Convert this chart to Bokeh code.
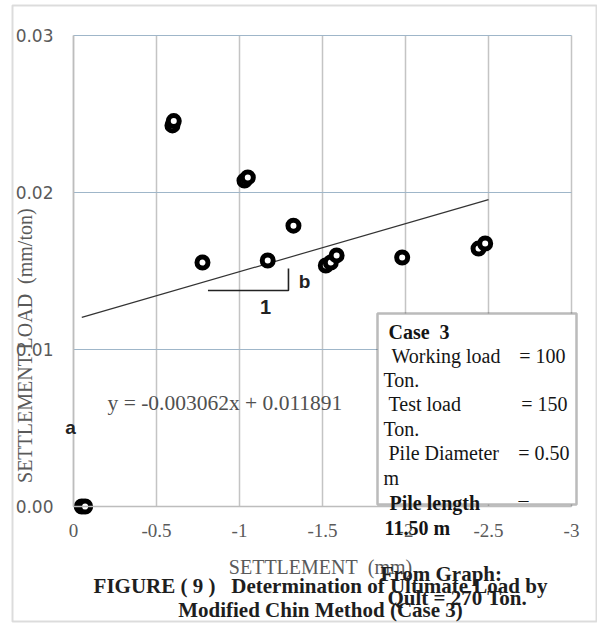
import math
from bokeh.plotting import figure
from bokeh.models import Range1d, FixedTicker, NumeralTickFormatter, Label, BoxAnnotation
from bokeh.embed import file_html
from bokeh.resources import INLINE

# ---------------- data ----------------
settlement = [-0.05, -0.07, -0.596, -0.604, -0.777, -1.03, -1.05, -1.17,
              -1.325, -1.52, -1.55, -1.585, -1.98, -2.44, -2.48]
settle_per_load = [0.0, 0.0, 0.02427, 0.02455, 0.01554, 0.02076, 0.02096, 0.01567,
                   0.01789, 0.01535, 0.01554, 0.01599, 0.01586, 0.01643, 0.01675]

trend_slope = -0.003062
trend_intercept = 0.011891
trend_x = [-0.05, -2.5]
trend_y = [trend_slope * x + trend_intercept for x in trend_x]

slope_tri_x = [-0.81, -1.295, -1.295]
slope_tri_y = [0.01376, 0.01376, 0.01516]

x_ticks = [0, -0.5, -1, -1.5, -2, -2.5, -3]
x_tick_labels = ["0", "-0.5", "-1", "-1.5", "-2", "-2.5", "-3"]
y_ticks = [0, 0.01, 0.02, 0.03]

# ---------------- layout geometry (pixels) ----------------
W, H = 597, 623
X0_PX, X3_PX = 73, 571      # pixel of x = 0 and x = -3
Y0_PX, Y3_PX = 506, 35      # pixel of y = 0 and y = 0.03

def dx(px):
    return -(px - X0_PX) * 3.0 / (X3_PX - X0_PX)

def dy(py):
    return (Y0_PX - py) * 0.03 / (Y0_PX - Y3_PX)

p = figure(width=W, height=H,
           x_range=Range1d(dx(0), dx(W)), y_range=Range1d(dy(H), dy(0)),
           output_backend="svg", toolbar_location=None,
           min_border=0, min_border_left=0, min_border_right=0,
           min_border_top=0, min_border_bottom=0)
p.outline_line_color = None
p.background_fill_color = "white"
p.border_fill_color = "white"
p.xgrid.visible = False
p.ygrid.visible = False

GRAY_TXT = "#5a5a5a"
NB = "\u00a0"

# grid lines (inside the data area only)
p.segment(x0=x_ticks, y0=[0] * len(x_ticks), x1=x_ticks, y1=[0.03] * len(x_ticks),
          line_color="#c4c4c4", line_width=1.5)
p.segment(x0=[0] * len(y_ticks), y0=y_ticks, x1=[-3] * len(y_ticks), y1=y_ticks,
          line_color="#9fb6c9", line_width=1)

xa = p.xaxis[0]
xa.fixed_location = 0
xa.bounds = (-3, 0)
xa.ticker = FixedTicker(ticks=x_ticks)
xa.major_label_overrides = {float(t): l for t, l in zip(x_ticks, x_tick_labels)}
xa.axis_line_color = "#bdbdbd"
xa.axis_line_width = 1.5
xa.major_tick_line_color = None
xa.minor_tick_line_color = None
xa.major_tick_out = 0
xa.major_tick_in = 0
xa.major_label_standoff = 17
xa.major_label_text_font = "Liberation Serif"
xa.major_label_text_font_size = "19px"
xa.major_label_text_color = GRAY_TXT

ya = p.yaxis[0]
ya.fixed_location = 0
ya.bounds = (0, 0.03)
ya.ticker = FixedTicker(ticks=y_ticks)
ya.formatter = NumeralTickFormatter(format="0.00")
ya.axis_line_color = "#bdbdbd"
ya.axis_line_width = 1.5
ya.major_tick_line_color = None
ya.minor_tick_line_color = None
ya.major_tick_out = 0
ya.major_tick_in = 0
ya.major_label_standoff = 20
ya.major_label_text_font = "DejaVu Sans"
ya.major_label_text_font_size = "17px"
ya.major_label_text_color = GRAY_TXT

# trend line and slope triangle
p.line(trend_x, trend_y, line_color="#333333", line_width=1.2)
p.line(slope_tri_x, slope_tri_y, line_color="#222222", line_width=1.6)

# points
p.scatter(settlement, settle_per_load, size=11, fill_color="white",
          line_color="black", line_width=5)

def lab(text, px, py, size, font="Liberation Serif", style="normal",
        color=GRAY_TXT, align="left", angle=0.0):
    p.add_layout(Label(x=dx(px), y=dy(py), text=text, text_font=font,
                       text_font_size=f"{size}px", text_font_style=style,
                       text_color=color, text_align=align, text_baseline="middle",
                       angle=angle))

# outer frame
p.add_layout(BoxAnnotation(left=dx(12), right=dx(596), top=dy(5), bottom=dy(621),
                           fill_color=None, line_color="#8c8c8c", line_width=2))

# info box
p.add_layout(BoxAnnotation(left=dx(377), right=dx(576), top=dy(313), bottom=dy(504),
                           fill_color="white", fill_alpha=1.0,
                           line_color="#1e1e1e", line_width=2.5))

BLK = "#151515"
lab("Case" + NB + NB + "3", 388, 331, 20, style="bold", color=BLK)
lab("Working load", 391, 355, 20, color=BLK)
lab("= 100", 565, 355, 20, color=BLK, align="right")
lab("Ton.", 383, 379, 20, color=BLK)
lab("Test load", 388, 403, 20, color=BLK)
lab("= 150", 567, 403, 20, color=BLK, align="right")
lab("Ton.", 383, 428, 20, color=BLK)
lab("Pile Diameter", 388, 452, 20, color=BLK)
lab("= 0.50", 569, 452, 20, color=BLK, align="right")
lab("m", 383, 477, 20, color=BLK)
lab("Pile length", 389, 502, 20, style="bold", color=BLK)
lab("\u2013", 523, 499, 20, color=BLK, align="center")
lab("11.50 m", 384, 527, 20, style="bold", color=BLK)

# equation and markers a / b / 1
lab("y = -0.003062x + 0.011891", 107, 402, 21.5, color="#505050")
lab("a", 70, 427, 19, font="Liberation Sans", style="bold", color="#222222", align="center")
lab("b", 304, 281, 19, font="Liberation Sans", style="bold", color="#222222", align="center")
lab("1", 265, 306, 20, font="Liberation Sans", style="bold", color="#222222", align="center")

# axis titles
lab("SETTLEMENT LOAD" + NB + NB + "(mm/ton)", 24, 345, 20, align="center", angle=math.pi / 2)
lab("SETTLEMENT" + NB + NB + "(mm)", 320, 566, 20, align="center")

# captions
lab("FIGURE ( 9 )" + NB + NB + NB + "Determination of Ultimate Load by", 320, 585, 21,
    style="bold", color="#1e1e1e", align="center")
lab("Modified Chin Method (Case 3)", 320, 609, 21, style="bold", color="#1e1e1e",
    align="center")
lab("From Graph:", 380, 573, 21, style="bold", color="#1e1e1e")
lab("Qult = 270 Ton.", 387, 597, 21, style="bold", color="#1e1e1e")

open("out.html", "w").write(file_html(p, INLINE))
